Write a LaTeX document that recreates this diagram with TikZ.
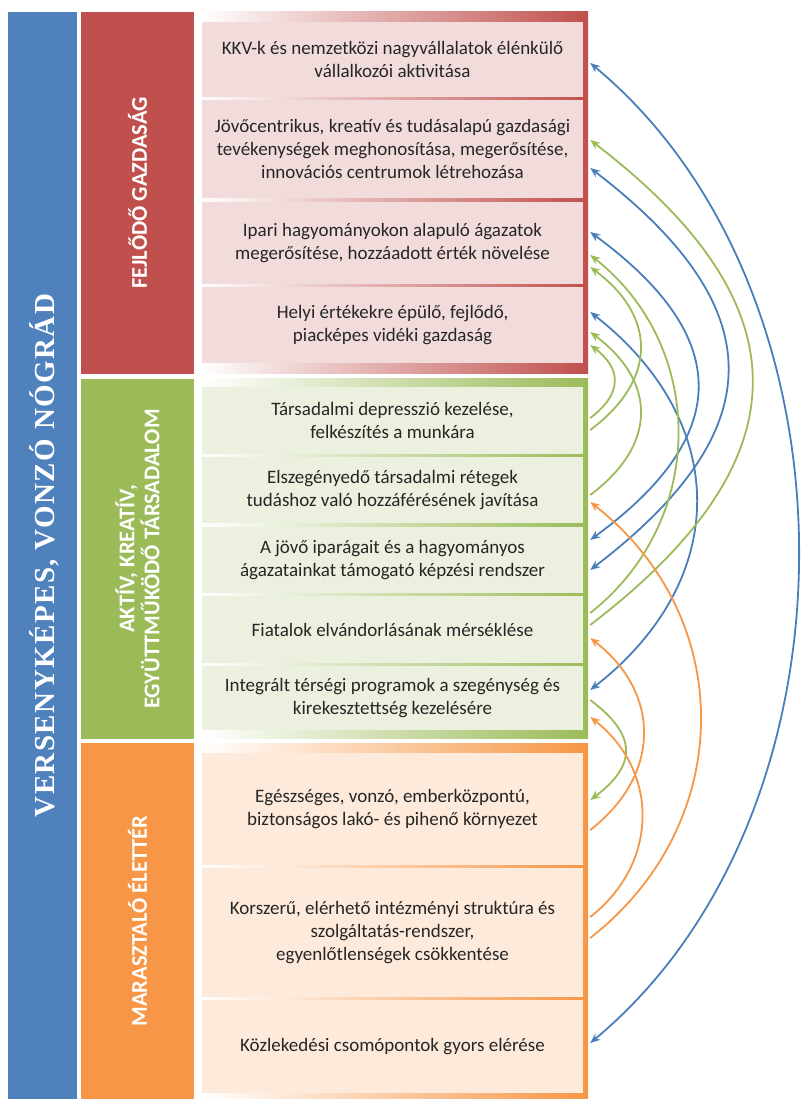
\documentclass[tikz,border=0pt]{standalone}
\usepackage{fontspec}
\setmainfont{Carlito}
\newfontfamily\titlefont[LetterSpace=5]{Liberation Serif}
\usetikzlibrary{arrows.meta,calc}
\definecolor{nogblue}{HTML}{4F81BD}
\definecolor{gazred}{HTML}{C0504D}
\definecolor{tarsgreen}{HTML}{9BBB59}
\definecolor{eletorange}{HTML}{F79646}
\definecolor{gazfill}{HTML}{F2DCDB}
\definecolor{tarsfill}{HTML}{EBF1DE}
\definecolor{eletfill}{HTML}{FDEADA}
\definecolor{linkblue}{HTML}{4A7EBB}

\begin{document}
\begin{tikzpicture}[x=1pt,y=-1pt]
\useasboundingbox (0,0) rectangle (801,1099);
\tikzstyle{colbox}=[rectangle,rotate=90,inner sep=0pt,text=white,align=center,font=\fontsize{22.5}{25}\selectfont\bfseries]
\tikzstyle{goalbox}=[rectangle,inner sep=0pt,minimum width=381pt,align=center,text=black!85,font=\fontsize{19}{23}\selectfont]
\tikzstyle{arcline}=[line width=1.8pt,>={Stealth[length=10pt,width=8pt]}]
\tikzstyle{bluelink}=[arcline,color=linkblue,<->]
\tikzstyle{greenlink}=[arcline,color=tarsgreen,<-]
\tikzstyle{orangelink}=[arcline,color=eletorange,<-]
% left columns
\node[colbox,fill=nogblue,minimum width=1087pt,minimum height=69pt,text depth=0pt,font=\titlefont\bfseries\fontsize{29}{34}\selectfont] (VN) at (42.5,555.5) {VERSENYKÉPES, VONZÓ NÓGRÁD};
\node[colbox,fill=gazred,minimum width=362pt,minimum height=113pt] (FG) at (137.5,193) {FEJLŐDŐ GAZDASÁG};
\node[colbox,fill=tarsgreen,minimum width=360pt,minimum height=113pt] (AT) at (137.5,559) {AKTÍV, KREATÍV,\\EGYÜTTMŰKÖDŐ TÁRSADALOM};
\node[colbox,fill=eletorange,minimum width=356pt,minimum height=113pt] (ME) at (137.5,921) {MARASZTALÓ ÉLETTÉR};
% frames
\shade[left color=white,right color=gazred] (200,12) rectangle (588,373);
\shade[left color=white,right color=tarsgreen] (200,378) rectangle (588,738);
\shade[left color=white,right color=eletorange] (200,743) rectangle (588,1099);
% goals
\node[goalbox,fill=gazfill,minimum height=75pt] (R1) at (392.5,59.5) {KKV-k és nemzetközi nagyvállalatok élénkülő\\vállalkozói aktivitása};
\node[goalbox,fill=gazfill,minimum height=98pt] (R2) at (392.5,149) {Jövőcentrikus, kreatív és tudásalapú gazdasági\\tevékenységek meghonosítása, megerősítése,\\innovációs centrumok létrehozása};
\node[goalbox,fill=gazfill,minimum height=82pt] (R3) at (392.5,243) {Ipari hagyományokon alapuló ágazatok\\megerősítése, hozzáadott érték növelése};
\node[goalbox,fill=gazfill,minimum height=76pt] (R4) at (392.5,325) {Helyi értékekre épülő, fejlődő,\\piacképes vidéki gazdaság};
\node[goalbox,fill=tarsfill,minimum height=67pt] (G1) at (392.5,420.5) {Társadalmi depresszió kezelése,\\felkészítés a munkára};
\node[goalbox,fill=tarsfill,minimum height=66pt] (G2) at (392.5,490) {Elszegényedő társadalmi rétegek\\tudáshoz való hozzáférésének javítása};
\node[goalbox,fill=tarsfill,minimum height=66pt] (G3) at (392.5,560) {A jövő iparágait és a hagyományos\\ágazatainkat támogató képzési rendszer};
\node[goalbox,fill=tarsfill,minimum height=67pt] (G4) at (392.5,629.5) {Fiatalok elvándorlásának mérséklése};
\node[goalbox,fill=tarsfill,minimum height=64pt] (G5) at (392.5,698) {Integrált térségi programok a szegénység és\\kirekesztettség kezelésére};
\node[goalbox,fill=eletfill,minimum height=112pt] (O1) at (392.5,809) {Egészséges, vonzó, emberközpontú,\\biztonságos lakó- és pihenő környezet};
\node[goalbox,fill=eletfill,minimum height=129pt] (O2) at (392.5,932.5) {Korszerű, elérhető intézményi struktúra és\\szolgáltatás-rendszer,\\egyenlőtlenségek csökkentése};
\node[goalbox,fill=eletfill,minimum height=93pt] (O3) at (392.5,1046.5) {Közlekedési csomópontok gyors elérése};
% links
\draw[bluelink] ($(R1.east)+(7,3.5)$) .. controls +(277,230) and +(277,-230) .. ($(O3.east)+(7,-3.5)$);
\draw[bluelink] ($(R2.east)+(7,19)$) .. controls +(183,140) and +(183,-140) .. ($(G3.east)+(7,10)$);
\draw[bluelink] ($(R3.east)+(7,-11)$) .. controls +(143,105) and +(143,-105) .. ($(G3.east)+(7,-20)$);
\draw[bluelink] ($(R4.east)+(7,-13)$) .. controls +(141,110) and +(141,-110) .. ($(G5.east)+(7,-8)$);
\draw[greenlink] ($(R2.east)+(7,-9)$) .. controls +(216,165) and +(216,-165) .. ($(G4.east)+(7,-4.5)$);
\draw[greenlink] ($(R3.east)+(7,12)$) .. controls +(117,92) and +(117,-92) .. ($(G4.east)+(7,-16.5)$);
\draw[greenlink] ($(R3.east)+(7,24)$) .. controls +(67,50) and +(67,-50) .. ($(G1.east)+(7,9.5)$);
\draw[greenlink] ($(R4.east)+(7,7)$) .. controls +(67,50) and +(67,-50) .. ($(G2.east)+(7,5)$);
\draw[greenlink] ($(R4.east)+(7,20)$) .. controls +(32,24) and +(32,-24) .. ($(G1.east)+(7,-2.5)$);
\draw[greenlink] ($(O1.east)+(7,-9)$) .. controls +(47,-35) and +(47,35) .. ($(G5.east)+(7,2)$);
\draw[orangelink] ($(G2.east)+(7,12)$) .. controls +(147,115) and +(147,-115) .. ($(O2.east)+(7,5.5)$);
\draw[orangelink] ($(G4.east)+(7,8.5)$) .. controls +(71,55) and +(71,-55) .. ($(O1.east)+(7,21)$);
\draw[orangelink] ($(G5.east)+(7,19)$) .. controls +(69,54) and +(69,-54) .. ($(O2.east)+(7,-15.5)$);
%\draw[bluelink] (R1.east) to[bend left] (O3.east);
\end{tikzpicture}
\end{document}
